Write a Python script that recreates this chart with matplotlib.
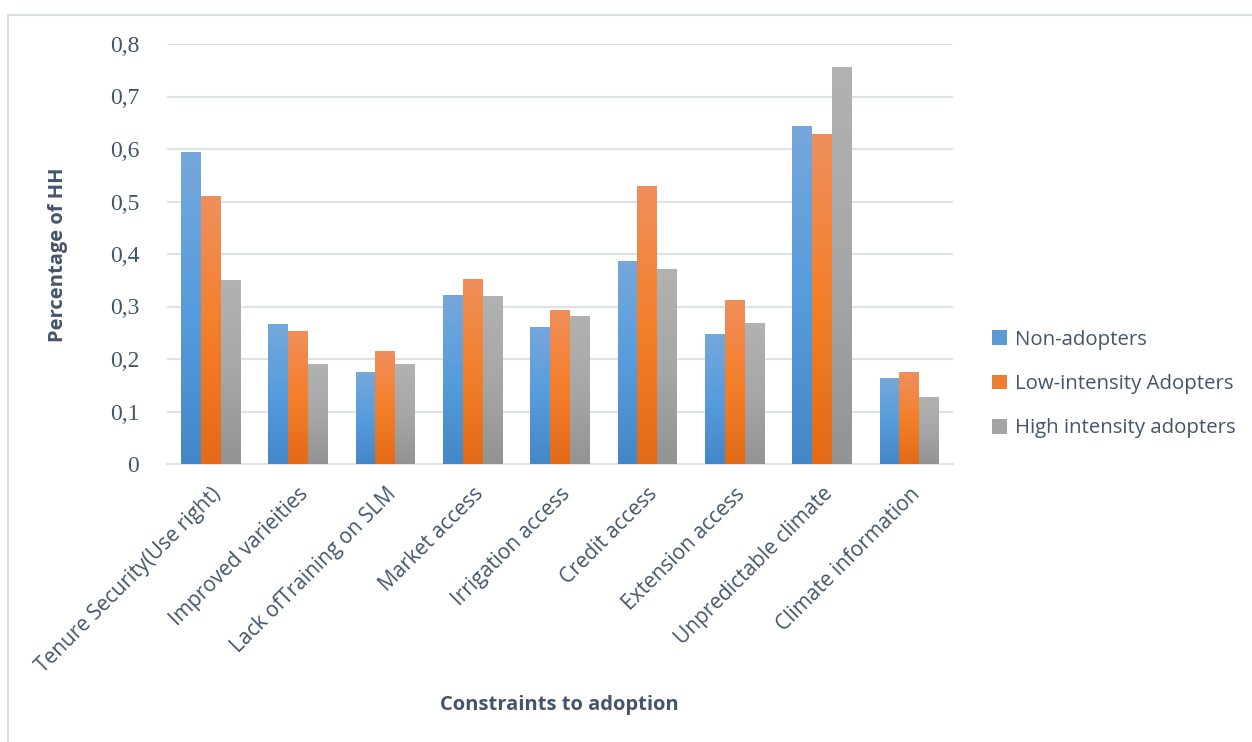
import numpy as np
import matplotlib
matplotlib.use("Agg")
import matplotlib.pyplot as plt
from matplotlib.colors import LinearSegmentedColormap
from matplotlib.patches import Rectangle

categories = [
    "Tenure Security(Use right)",
    "Improved varieities",
    "Lack ofTraining on SLM",
    "Market access",
    "Irrigation access",
    "Credit access",
    "Extension access",
    "Unpredictable climate",
    "Climate information",
]
non_adopters = [0.594, 0.267, 0.175, 0.322, 0.261, 0.387, 0.248, 0.644, 0.164]
low_intensity = [0.510, 0.253, 0.215, 0.352, 0.293, 0.530, 0.312, 0.629, 0.175]
high_intensity = [0.350, 0.190, 0.190, 0.320, 0.282, 0.371, 0.268, 0.756, 0.128]
series_names = ["Non-adopters", "Low-intensity Adopters", "High intensity adopters"]
y_ticks = [0, 0.1, 0.2, 0.3, 0.4, 0.5, 0.6, 0.7, 0.8]
y_tick_labels = ["0", "0,1", "0,2", "0,3", "0,4", "0,5", "0,6", "0,7", "0,8"]

TEXT = "#44546A"
GRID = "#DDE2E9"
# bottom, middle, top colours of each bar's vertical gradient
gradients = [
    ("#4487C8", "#579CDD", "#76A8DB"),
    ("#E36A16", "#F47F2B", "#F08F5C"),
    ("#939393", "#A7A7A7", "#B2B2B2"),
]
solid = ["#5A9BD5", "#ED7D31", "#A5A5A5"]

W, H = 1252, 742
fig = plt.figure(figsize=(W / 100, H / 100), dpi=100)
fig.patch.set_facecolor("white")

# outer chart frame
fig.add_artist(Rectangle((8 / W, -0.1), 1.2, (H - 15) / H + 0.1,
                         transform=fig.transFigure, fill=False,
                         edgecolor="#D9DEE6", linewidth=1.5))

left, right, top, bottom = 167, 953, 44, 464
ax = fig.add_axes([left / W, (H - bottom) / H, (right - left) / W, (bottom - top) / H])

n = len(categories)
x = np.arange(n)
bw = 0.227
data = [non_adopters, low_intensity, high_intensity]

grad = np.linspace(0, 1, 256).reshape(-1, 1)
for i, (vals, cols) in enumerate(zip(data, gradients)):
    cmap = LinearSegmentedColormap.from_list(f"g{i}", list(cols))
    bars = ax.bar(x + (i - 1) * bw, vals, bw, color=solid[i], zorder=2,
                  label=series_names[i], linewidth=0)
    for b in bars:
        bx, by = b.get_x(), b.get_y()
        bwid, bh = b.get_width(), b.get_height()
        im = ax.imshow(grad, cmap=cmap, origin="lower", aspect="auto",
                       extent=(bx, bx + bwid, by, by + bh), zorder=3)
        im.set_clip_path(b)

ax.set_xlim(-0.5, n - 0.5)
ax.set_ylim(0, 0.8)

ax.set_yticks(y_ticks)
ax.set_yticklabels(y_tick_labels, family="Liberation Serif", fontsize=17, color=TEXT)
ax.set_xticks(x)
ax.set_xticklabels(categories, rotation=45, ha="right", va="top",
                   rotation_mode="anchor", family="Open Sans", fontsize=15, color=TEXT)
ax.tick_params(axis="both", length=0)
ax.tick_params(axis="y", pad=20)
ax.tick_params(axis="x", pad=14)

ax.grid(axis="y", color=GRID, linewidth=1.5, zorder=0)
ax.set_axisbelow(True)
for s in ["top", "right", "left"]:
    ax.spines[s].set_visible(False)
ax.spines["bottom"].set_color(GRID)
ax.spines["bottom"].set_linewidth(1.5)

fig.text(58 / W, 1 - 255 / H, "Percentage of HH", rotation=90, ha="center", va="center",
         family="Open Sans", fontweight="bold", fontsize=14.5, color=TEXT)
fig.text(559 / W, 1 - 705 / H, "Constraints to adoption", ha="center", va="center",
         family="Open Sans", fontweight="bold", fontsize=14.5, color=TEXT)

handles = [Rectangle((0, 0), 1, 1, facecolor=c, edgecolor="none") for c in solid]
leg = fig.legend(handles, series_names, loc="center left",
                 bbox_to_anchor=(974 / W, 1 - 384 / H), frameon=False,
                 prop={"family": "Open Sans", "size": 14.7},
                 handlelength=0.7, handleheight=0.7, handletextpad=0.4,
                 labelspacing=1.2, labelcolor=TEXT)

fig.savefig("out.png", dpi=100, facecolor="white")
